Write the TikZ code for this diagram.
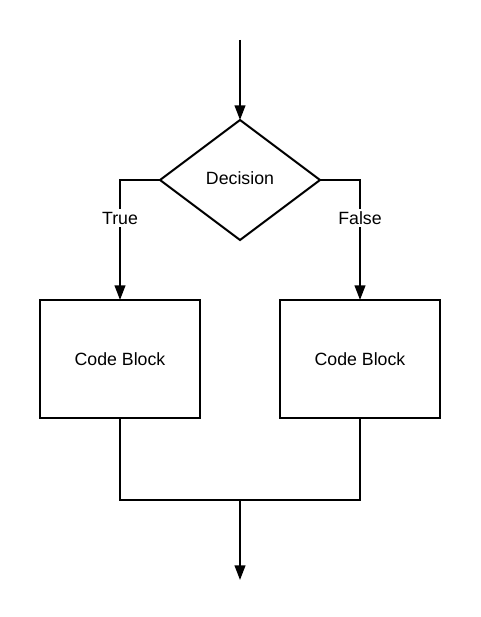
\documentclass[tikz,border=0pt]{standalone}
\usepackage{fontspec}
\setmainfont{Liberation Sans}
\usetikzlibrary{shapes.geometric,arrows.meta}

\begin{document}
\begin{tikzpicture}[x=0.75pt,y=-0.75pt,line width=1.5pt,
	>={Triangle[length=11pt,width=8pt]},
	every node/.style={font=\fontsize{13.3}{16}\selectfont},
	decide/.style={diamond,draw,inner sep=0pt,outer sep=0pt,minimum width=120pt,minimum height=90pt,aspect=1.333,text depth=3pt},
	block/.style={rectangle,draw,inner sep=0pt,outer sep=0pt,minimum width=120pt,minimum height=88.5pt},
	branch/.style={fill=white,inner sep=2pt}]
	\useasboundingbox (0,0) rectangle (480,617);

	\coordinate (start) at (240,40);
	\node[decide] (dec) at (240,180) {Decision};
	\node[block] (codeT) at (120,359) {Code Block};
	\node[block] (codeF) at (360,359) {Code Block};
	\coordinate (join) at (240,500);
	\coordinate (stop) at (240,580);

	%entry
	\draw[->] (start)--(dec.north);

	%branches
	\draw[->] (dec.west)-|(codeT.north);
	\draw[->] (dec.east)-|(codeF.north);

	%merge
	\draw (codeT.south)|-(join)-|(codeF.south);
	\draw[->] (join)--(stop);

	%labels
	\node[branch] at (120,218) {True};
	\node[branch] at (360,218) {False};
\end{tikzpicture}
\end{document}
